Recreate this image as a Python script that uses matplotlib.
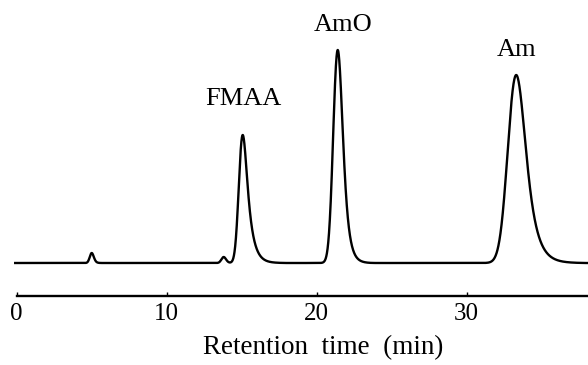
import numpy as np
import matplotlib
matplotlib.use("Agg")
import matplotlib.pyplot as plt

# peak table: retention time (min), height (detector units), width, tailing
peak_times = [5.0, 13.8, 15.07, 21.4, 33.3]
peak_heights = [10, 6, 128, 213, 188]
peak_sigmas = [0.12, 0.14, 0.21, 0.26, 0.48]
peak_tails = [0.08, 0.08, 0.35, 0.28, 0.55]

# named peaks and where their labels sit
label_names = ["FMAA", "AmO", "Am"]
label_times = [15.1, 21.75, 33.3]
label_heights = [164, 238, 213]

tick_values = [0, 10, 20, 30]
tick_labels = ["0", "10", "20", "30"]


def tailed_peak(t, rt, h, sigma, tau):
    # gaussian convolved with an exponential tail, rescaled so apex = (rt, h)
    dt = t[1] - t[0]
    g = np.exp(-0.5 * ((t - rt) / sigma) ** 2)
    k = np.exp(-np.arange(0, 8 * tau, dt) / tau)
    y = np.convolve(g, k)[: len(t)]
    shift = int(round((t[np.argmax(y)] - rt) / dt))
    y = np.roll(y, -shift)
    return h * y / y.max()


t = np.arange(-0.1, 38.2, 0.005)
signal = np.zeros_like(t)
for rt, h, s, tau in zip(peak_times, peak_heights, peak_sigmas, peak_tails):
    signal += tailed_peak(t, rt, h, s, tau)

fig = plt.figure(figsize=(5.88, 3.65), dpi=100)
ax = fig.add_axes([0, 69 / 365, 1, 296 / 365])
ax.plot(t, signal, color="black", lw=1.7, solid_joinstyle="round")

ax.set_xlim(-16.7 / 15, 571.3 / 15)
ax.set_ylim(-33, 263)

for name, x, y in zip(label_names, label_times, label_heights):
    ax.text(x, y, name, ha="center", va="center", fontsize=19,
            family="Liberation Serif")

for side in ["top", "right", "left"]:
    ax.spines[side].set_visible(False)
ax.spines["bottom"].set_bounds(0, 38.2)
ax.spines["bottom"].set_linewidth(1.7)
ax.set_yticks([])
ax.set_xticks(tick_values)
ax.set_xticklabels(tick_labels, family="Liberation Serif", fontsize=18)
ax.tick_params(axis="x", direction="in", length=3, width=1, pad=5)

fig.text(323 / 588, 1 - 348 / 365, "Retention  time  (min)", ha="center",
         va="center", fontsize=19.5, family="Liberation Serif")

fig.savefig("out.png", dpi=100, facecolor="white")
